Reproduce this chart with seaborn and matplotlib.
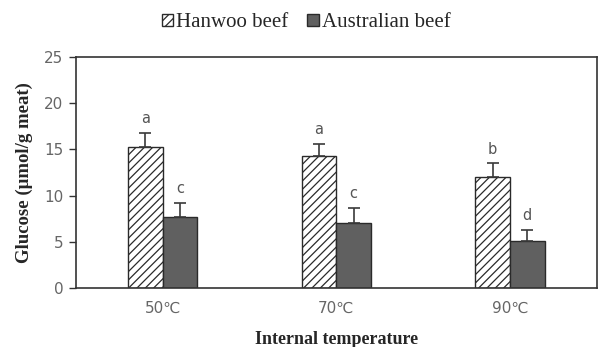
import numpy as np
import pandas as pd
import matplotlib
matplotlib.use('Agg')
import matplotlib.pyplot as plt
import seaborn as sns
from matplotlib.patches import Patch

temps = ['50℃', '70℃', '90℃']
groups = ['Hanwoo beef', 'Australian beef']
hanwoo = [15.3, 14.3, 12.0]
australian = [7.7, 7.0, 5.1]
hanwoo_err = [1.5, 1.3, 1.5]
australian_err = [1.5, 1.7, 1.2]
hanwoo_letters = ['a', 'a', 'b']
australian_letters = ['c', 'c', 'd']

df = pd.DataFrame({
    'temp': temps * 2,
    'group': [groups[0]] * 3 + [groups[1]] * 3,
    'glucose': hanwoo + australian,
})

sns.set_style('white')
plt.rcParams['hatch.color'] = '#3a3a3a'
plt.rcParams['hatch.linewidth'] = 0.9

fig = plt.figure(figsize=(5.98, 3.47), dpi=100)
ax = fig.add_axes([0.127, 0.170, 0.871, 0.666])

sns.barplot(data=df, x='temp', y='glucose', hue='group', order=temps,
            hue_order=groups, palette=['white', '#606060'], width=0.4,
            edgecolor='#2a2a2a', linewidth=1.0, errorbar=None,
            legend=False, ax=ax)

# hatch the Hanwoo bars, then add one-sided error bars and letters
ink = '#3a3a3a'
bar_conts = list(ax.containers)
for i, cont in enumerate(bar_conts):
    vals = hanwoo if i == 0 else australian
    errs = hanwoo_err if i == 0 else australian_err
    letters = hanwoo_letters if i == 0 else australian_letters
    for bar, v, e, lt in zip(cont, vals, errs, letters):
        if i == 0:
            bar.set_hatch('////')
        cx = bar.get_x() + bar.get_width() / 2
        ax.errorbar(cx, v, yerr=[[0], [e]], fmt='none', ecolor=ink,
                    elinewidth=1.2, capsize=4, capthick=1.2)
        ax.text(cx, v + e + 0.7, lt, ha='center', va='bottom',
                fontsize=10.5, color='#555555', family='DejaVu Sans')

ax.set_ylim(0, 25)
ax.set_xlim(-0.5, 2.5)
ax.set_yticks([0, 5, 10, 15, 20, 25])
ax.tick_params(axis='y', direction='out', length=5, width=1, color='#333333',
               labelsize=11, labelcolor='#666666', left=True, pad=4)
ax.tick_params(axis='x', length=0, labelsize=11, labelcolor='#666666', pad=9)
for s in ax.spines.values():
    s.set_visible(True)
    s.set_color('#333333')
    s.set_linewidth(1.2)

ax.set_xlabel('Internal temperature', family='Liberation Serif',
              fontweight='bold', fontsize=13, labelpad=11)
ax.set_ylabel('Glucose (μmol/g meat)', family='Liberation Serif',
              fontweight='bold', fontsize=13.5, labelpad=8)

handles = [Patch(facecolor='white', edgecolor='#2a2a2a', hatch='////'),
           Patch(facecolor='#606060', edgecolor='#2a2a2a')]
fig.legend(handles, groups, loc='center', bbox_to_anchor=(0.512, 0.934),
           ncol=2, frameon=False, handlelength=0.55, handleheight=0.55,
           handletextpad=0.15, columnspacing=0.9,
           prop={'family': 'Liberation Serif', 'size': 15})

fig.savefig('out.png', dpi=100, facecolor='white')
